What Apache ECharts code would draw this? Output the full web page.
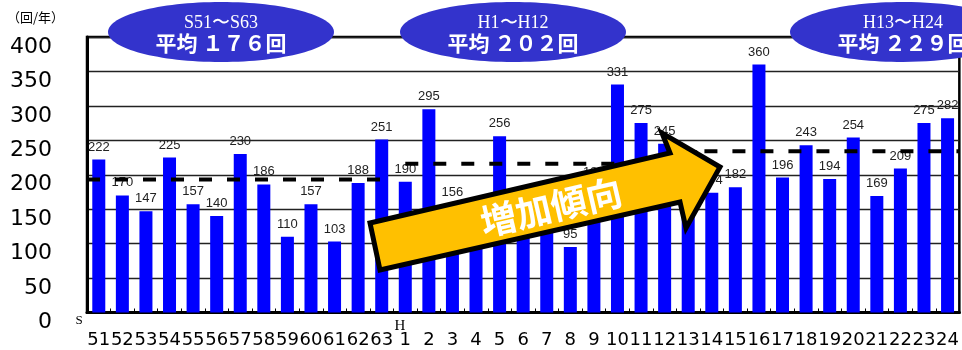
<!DOCTYPE html>
<html><head><meta charset="utf-8">
<script src="https://cdn.jsdelivr.net/npm/echarts@6/dist/echarts.min.js"></script>
<style>html,body{margin:0;padding:0;background:#fff}#c{width:962px;height:350px}</style>
</head><body><div id="c"></div>
<script>
const categories = ['51','52','53','54','55','56','57','58','59','60','61','62','63',
  '1','2','3','4','5','6','7','8','9','10','11','12',
  '13','14','15','16','17','18','19','20','21','22','23','24'];
const values = [222,170,147,225,157,140,230,186,110,157,103,188,251,
  190,295,156,130,256,125,140,95,185,331,275,245,
  210,174,182,360,196,243,194,254,169,209,275,282];
const yTicks = [0,50,100,150,200,250,300,350,400];
const periodNames = ['S51\u301cS63','H1\u301cH12','H13\u301cH24'];
const periodAvgText = ['平均 １７６回','平均 ２０２回','平均 ２２９回'];
const avgLineLevel = [193, 216, 234];
const avgLineFrom = [0, 13.5, 25];
const avgLineTo = [12.5, 25, 37];
const unitLabel = '（回/年）';
const trendText = '増加傾向';

const chart = echarts.init(document.getElementById('c'), null, {renderer:'canvas'});
const dashSeries = avgLineLevel.map((lv, i) => ({
  type:'line', xAxisIndex:1, yAxisIndex:0, symbol:'none', silent:true,
  data:[[avgLineFrom[i], lv],[avgLineTo[i], lv]],
  lineStyle:{color:'#000', width:4, type:[13,15]}, z:5
}));
const ellCx = [221, 513, 903];
const graphics = [];
ellCx.forEach((cx,i)=>{
  graphics.push({type:'ellipse', shape:{cx:cx, cy:32, rx:113, ry:30}, style:{fill:'#3333CC'}, z:100});
  graphics.push({type:'text', x:cx, y:23, z:101, style:{text:periodNames[i], fill:'#fff', font:'18px "Liberation Serif"', align:'center', verticalAlign:'middle'}});
  graphics.push({type:'text', x:cx, y:43, z:101, style:{text:periodAvgText[i], fill:'#fff', font:'bold 21px "Noto Sans CJK JP"', align:'center', verticalAlign:'middle'}});
});
graphics.push({type:'text', x:7, y:17, z:101, style:{text:unitLabel, fill:'#000', font:'13px "Noto Sans CJK JP"', align:'left', verticalAlign:'middle'}});
graphics.push({type:'text', x:79, y:321, z:101, style:{text:'S', fill:'#000', font:'13px "Liberation Serif"', align:'center', verticalAlign:'middle'}});
graphics.push({type:'text', x:400, y:326, z:101, style:{text:'H', fill:'#000', font:'15px "Liberation Serif"', align:'center', verticalAlign:'middle'}});
graphics.push({type:'polygon', z:110, shape:{points:[[370,223],[670,153],[662,133],[720,167],[686,228],[680,202],[380,270]]},
  style:{fill:'#FFC000', stroke:'#000', lineWidth:5, lineJoin:'miter'}});
graphics.push({type:'text', x:551, y:207, rotation:13*Math.PI/180, z:111, style:{text:trendText, fill:'#fff', font:'bold 36px "Noto Sans CJK JP"', align:'center', verticalAlign:'middle'}});

chart.setOption({
  animation:false,
  grid:{left:87, right:2, top:37, bottom:37.5, show:true, borderColor:'#000', borderWidth:2.5},
  xAxis:[{type:'category', data:categories, boundaryGap:true,
    axisLine:{lineStyle:{color:'#000', width:3}},
    axisTick:{show:true, inside:true, length:4, lineStyle:{color:'#000'}},
    axisLabel:{interval:0, color:'#000', fontFamily:'DejaVu Sans', fontSize:18, margin:19}},
   {type:'value', min:0, max:37, show:false}],
  yAxis:{type:'value', min:0, max:400, interval:50,
    axisLine:{show:true, lineStyle:{color:'#000', width:3}}, axisTick:{show:false},
    axisLabel:{color:'#000', fontFamily:'DejaVu Sans', fontSize:22, margin:35, verticalAlign:'top', lineHeight:20,
      formatter:v=> yTicks.includes(v) ? String(v) : ''},
    splitLine:{lineStyle:{color:'#222', width:1.3}}},
  series:[{type:'bar', data:values, barWidth:13, itemStyle:{color:'#0000FF'},
    label:{show:true, position:'top', distance:6, color:'#222', fontFamily:'Liberation Sans', fontSize:13}, z:2}
  ].concat(dashSeries),
  graphic:graphics
});
</script></body></html>
